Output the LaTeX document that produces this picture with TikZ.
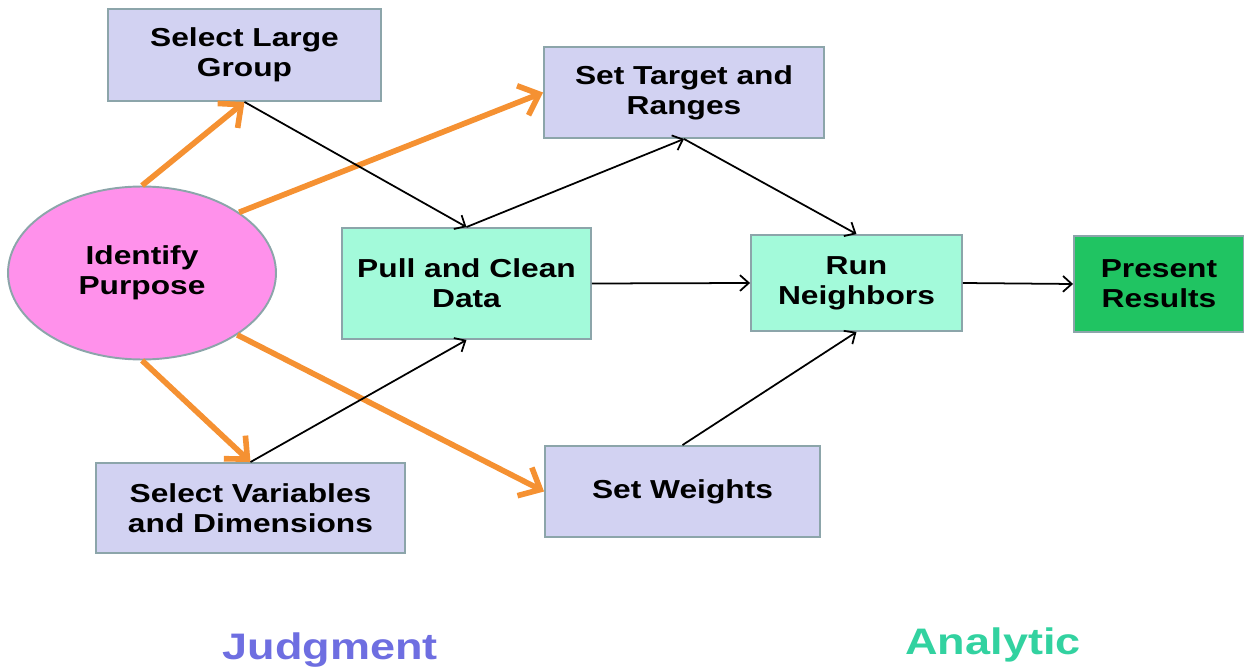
\documentclass[tikz,border=0pt]{standalone}
\usepackage{fontspec}
\setmainfont{Liberation Sans}[FakeStretch=1.22]
\usetikzlibrary{arrows.meta,shapes.geometric}
\definecolor{lavender}{RGB}{210,210,242}
\definecolor{mint}{RGB}{163,250,218}
\definecolor{resgreen}{RGB}{32,196,98}
\definecolor{pinkish}{RGB}{255,145,235}
\definecolor{flowor}{RGB}{245,145,50}
\definecolor{boxline}{RGB}{140,165,170}
\definecolor{judgblue}{RGB}{110,110,225}
\definecolor{analteal}{RGB}{50,210,160}
\newcommand{\boxfont}{\bfseries\fontsize{14.8}{17}\selectfont}
\begin{document}
\begin{tikzpicture}[x=0.02cm,y=-0.02cm,
  box/.style={draw=boxline, line width=1.1pt, inner sep=0pt, align=center, font=\boxfont},
  judgbox/.style={box, fill=lavender},
  analbox/.style={box, fill=mint},
  blk/.style={draw, line width=1pt, -{Straight Barb[length=5pt,width=9pt]}},
  orng/.style={draw=flowor, line width=3.2pt, -{Straight Barb[length=10pt,width=18pt]}}]
\useasboundingbox (0,0) rectangle (1244,672);
\node[box, ellipse, fill=pinkish, minimum width=5.36cm, minimum height=3.46cm] (ip) at (142,273) {Identify\\Purpose};
\node[judgbox, minimum width=5.46cm, minimum height=1.84cm] (slg) at (244.5,55) {Select Large\\Group};
\node[judgbox, minimum width=5.6cm, minimum height=1.82cm] (stg) at (684,92.5) {Set Target and\\Ranges};
\node[judgbox, minimum width=6.18cm, minimum height=1.8cm] (sv) at (250.5,508) {Select Variables\\and Dimensions};
\node[judgbox, minimum width=5.5cm, minimum height=1.82cm] (sw) at (682.5,491.5) {Set Weights};
\node[analbox, minimum width=4.98cm, minimum height=2.22cm] (pcd) at (466.5,283.5) {Pull and Clean\\Data};
\node[analbox, minimum width=4.22cm, minimum height=1.92cm] (rn) at (856.5,283) {Run\\Neighbors};
\node[box, fill=resgreen, minimum width=3.4cm, minimum height=1.92cm] (pr) at (1159,284) {Present\\Results};
% judgment steps
\path[orng] (ip.north) -- (slg.south);
\path[orng] (ip.32) -- (stg.west);
\path[orng] (ip.south) -- (sv.north);
\path[orng] (ip.-33) -- (sw.west);
% analytic flow
\path[blk] (slg.south) -- (pcd.north);
\path[blk] (sv.north) -- (pcd.south);
\path[blk] (pcd.north) -- (stg.south);
\path[blk] (stg.south) -- (rn.north);
\path[blk] (sw.north) -- (rn.south);
\path[blk] (pcd.east) -- (rn.west);
\path[blk] (rn.east) -- (pr.west);
\node[font=\bfseries\fontsize{21}{25}\selectfont, text=judgblue] (jl) at (330,650) {Judgment};
\node[font=\bfseries\fontsize{21}{25}\selectfont, text=analteal] (al) at (993,645) {Analytic};
\end{tikzpicture}
\end{document}
